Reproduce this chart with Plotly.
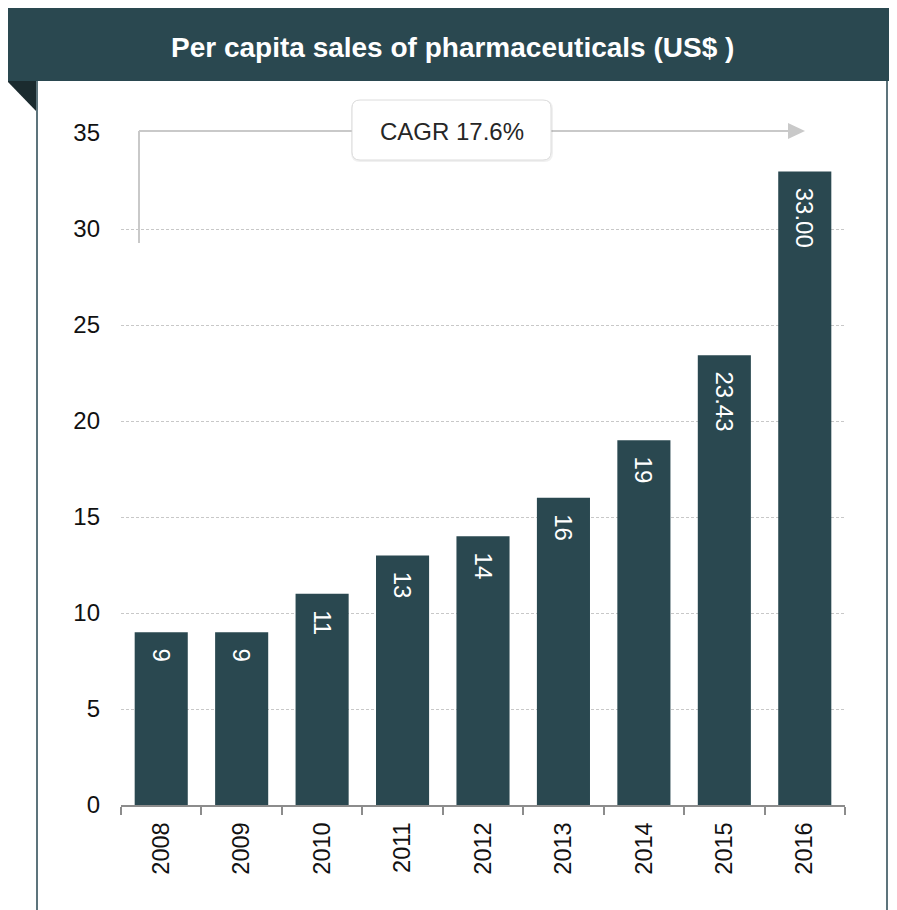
import plotly.graph_objects as go

# ---------------- data ----------------
years = ["2008", "2009", "2010", "2011", "2012", "2013", "2014", "2015", "2016"]
sales = [9, 9, 11, 13, 14, 16, 19, 23.43, 33.00]
bar_labels = ["9", "9", "11", "13", "14", "16", "19", "23.43", "33.00"]
y_ticks = [0, 5, 10, 15, 20, 25, 30, 35]
title_text = "Per capita sales of pharmaceuticals (US$ )"
cagr_text = "CAGR 17.6%"

# ---------------- layout constants ----------------
OFF = 8  # page body margin
W, H = 897, 910
# target screen positions of the plot area
SX0, SX1, SY0, SY1 = 121, 845, 133, 805
ML, MT = SX0 - OFF, SY0 - OFF
MR, MB = W - (SX1 - OFF), H - (SY1 - OFF)
PW, PH = SX1 - SX0, SY1 - SY0

def px(sx):
    return (sx - SX0) / PW

def py(sy):
    return (SY1 - sy) / PH

DARK = "#2a4850"
FONT = "Liberation Sans, Arial, sans-serif"
GRAY_LINE = "#c9c9c9"

fig = go.Figure()
fig.add_trace(go.Bar(
    x=years, y=sales, text=bar_labels,
    texttemplate="  %{text}",
    textposition="inside", insidetextanchor="end", textangle=90,
    textfont=dict(color="white", size=24, family=FONT),
    marker=dict(color=DARK, line=dict(width=0)),
    constraintext="none",
    hoverinfo="x+y",
))

shapes = []
# header band
shapes.append(dict(type="rect", xref="paper", yref="paper",
                   x0=px(7), x1=px(910), y0=py(3), y1=py(81),
                   fillcolor=DARK, line=dict(width=0), layer="above"))
# fold triangle
shapes.append(dict(type="path", xref="paper", yref="paper",
                   path=f"M {px(7)} {py(81)} L {px(36)} {py(81)} L {px(36)} {py(111)} Z",
                   fillcolor="#1b2b2f", line=dict(width=0), layer="above"))
# side borders
for xb in (37, 887):
    shapes.append(dict(type="line", xref="paper", yref="paper",
                       x0=px(xb), x1=px(xb), y0=py(81), y1=py(925),
                       line=dict(color="#5d747c", width=2), layer="above"))
# CAGR connector lines
shapes.append(dict(type="line", xref="paper", yref="paper",
                   x0=px(139), x1=px(139), y0=py(243), y1=py(131),
                   line=dict(color=GRAY_LINE, width=2), layer="above"))
shapes.append(dict(type="line", xref="paper", yref="paper",
                   x0=px(139), x1=px(355), y0=py(131), y1=py(131),
                   line=dict(color=GRAY_LINE, width=2), layer="above"))
shapes.append(dict(type="line", xref="paper", yref="paper",
                   x0=px(549), x1=px(790), y0=py(131), y1=py(131),
                   line=dict(color=GRAY_LINE, width=2), layer="above"))
shapes.append(dict(type="path", xref="paper", yref="paper",
                   path=f"M {px(788)} {py(123)} L {px(805)} {py(131)} L {px(788)} {py(139)} Z",
                   fillcolor=GRAY_LINE, line=dict(width=0), layer="above"))

# rounded box with soft shadow
def rrect(x0, y0, x1, y1, r):
    return (f"M {px(x0+r)} {py(y0)} L {px(x1-r)} {py(y0)} "
            f"Q {px(x1)} {py(y0)} {px(x1)} {py(y0+r)} L {px(x1)} {py(y1-r)} "
            f"Q {px(x1)} {py(y1)} {px(x1-r)} {py(y1)} L {px(x0+r)} {py(y1)} "
            f"Q {px(x0)} {py(y1)} {px(x0)} {py(y1-r)} L {px(x0)} {py(y0+r)} "
            f"Q {px(x0)} {py(y0)} {px(x0+r)} {py(y0)} Z")

shapes.append(dict(type="path", xref="paper", yref="paper",
                   path=rrect(351, 100, 553, 162, 9),
                   fillcolor="rgba(0,0,0,0.06)", line=dict(width=0), layer="above"))
shapes.append(dict(type="path", xref="paper", yref="paper",
                   path=rrect(352, 100, 551, 160, 8),
                   fillcolor="white", line=dict(color="#dcdcdc", width=1), layer="above"))

annotations = [
    dict(text=f"<b>{title_text}</b>", xref="paper", yref="paper",
         x=px(452), y=py(47), showarrow=False, xanchor="center", yanchor="middle",
         font=dict(color="white", size=28, family=FONT)),
    dict(text=cagr_text, xref="paper", yref="paper",
         x=px(452), y=py(131), showarrow=False, xanchor="center", yanchor="middle",
         font=dict(color="#262626", size=24, family=FONT)),
]

fig.update_layout(
    width=W, height=H,
    margin=dict(l=ML, r=MR, t=MT, b=MB, pad=0),
    paper_bgcolor="white", plot_bgcolor="white",
    font=dict(family=FONT, size=24, color="#1a1a1a"),
    bargap=0.34,
    showlegend=False,
    shapes=shapes,
    annotations=annotations,
    xaxis=dict(
        type="category", showgrid=False, zeroline=False,
        showline=True, linecolor="#8c8c8c", linewidth=2,
        ticks="outside", tickson="boundaries", ticklen=8, tickcolor="#8c8c8c", tickwidth=2,
        tickangle=-90, ticklabelstandoff=6,
        tickfont=dict(size=23.5, color="#111111", family=FONT),
    ),
    yaxis=dict(
        range=[0, 35], tickvals=y_ticks, showline=False, zeroline=False,
        showgrid=True, gridcolor="#c8c8c8", gridwidth=1, griddash="3px,2px",
        ticks="", ticklabelstandoff=20,
        tickfont=dict(size=24, color="#111111", family=FONT),
    ),
)

fig.write_html("out.html")
